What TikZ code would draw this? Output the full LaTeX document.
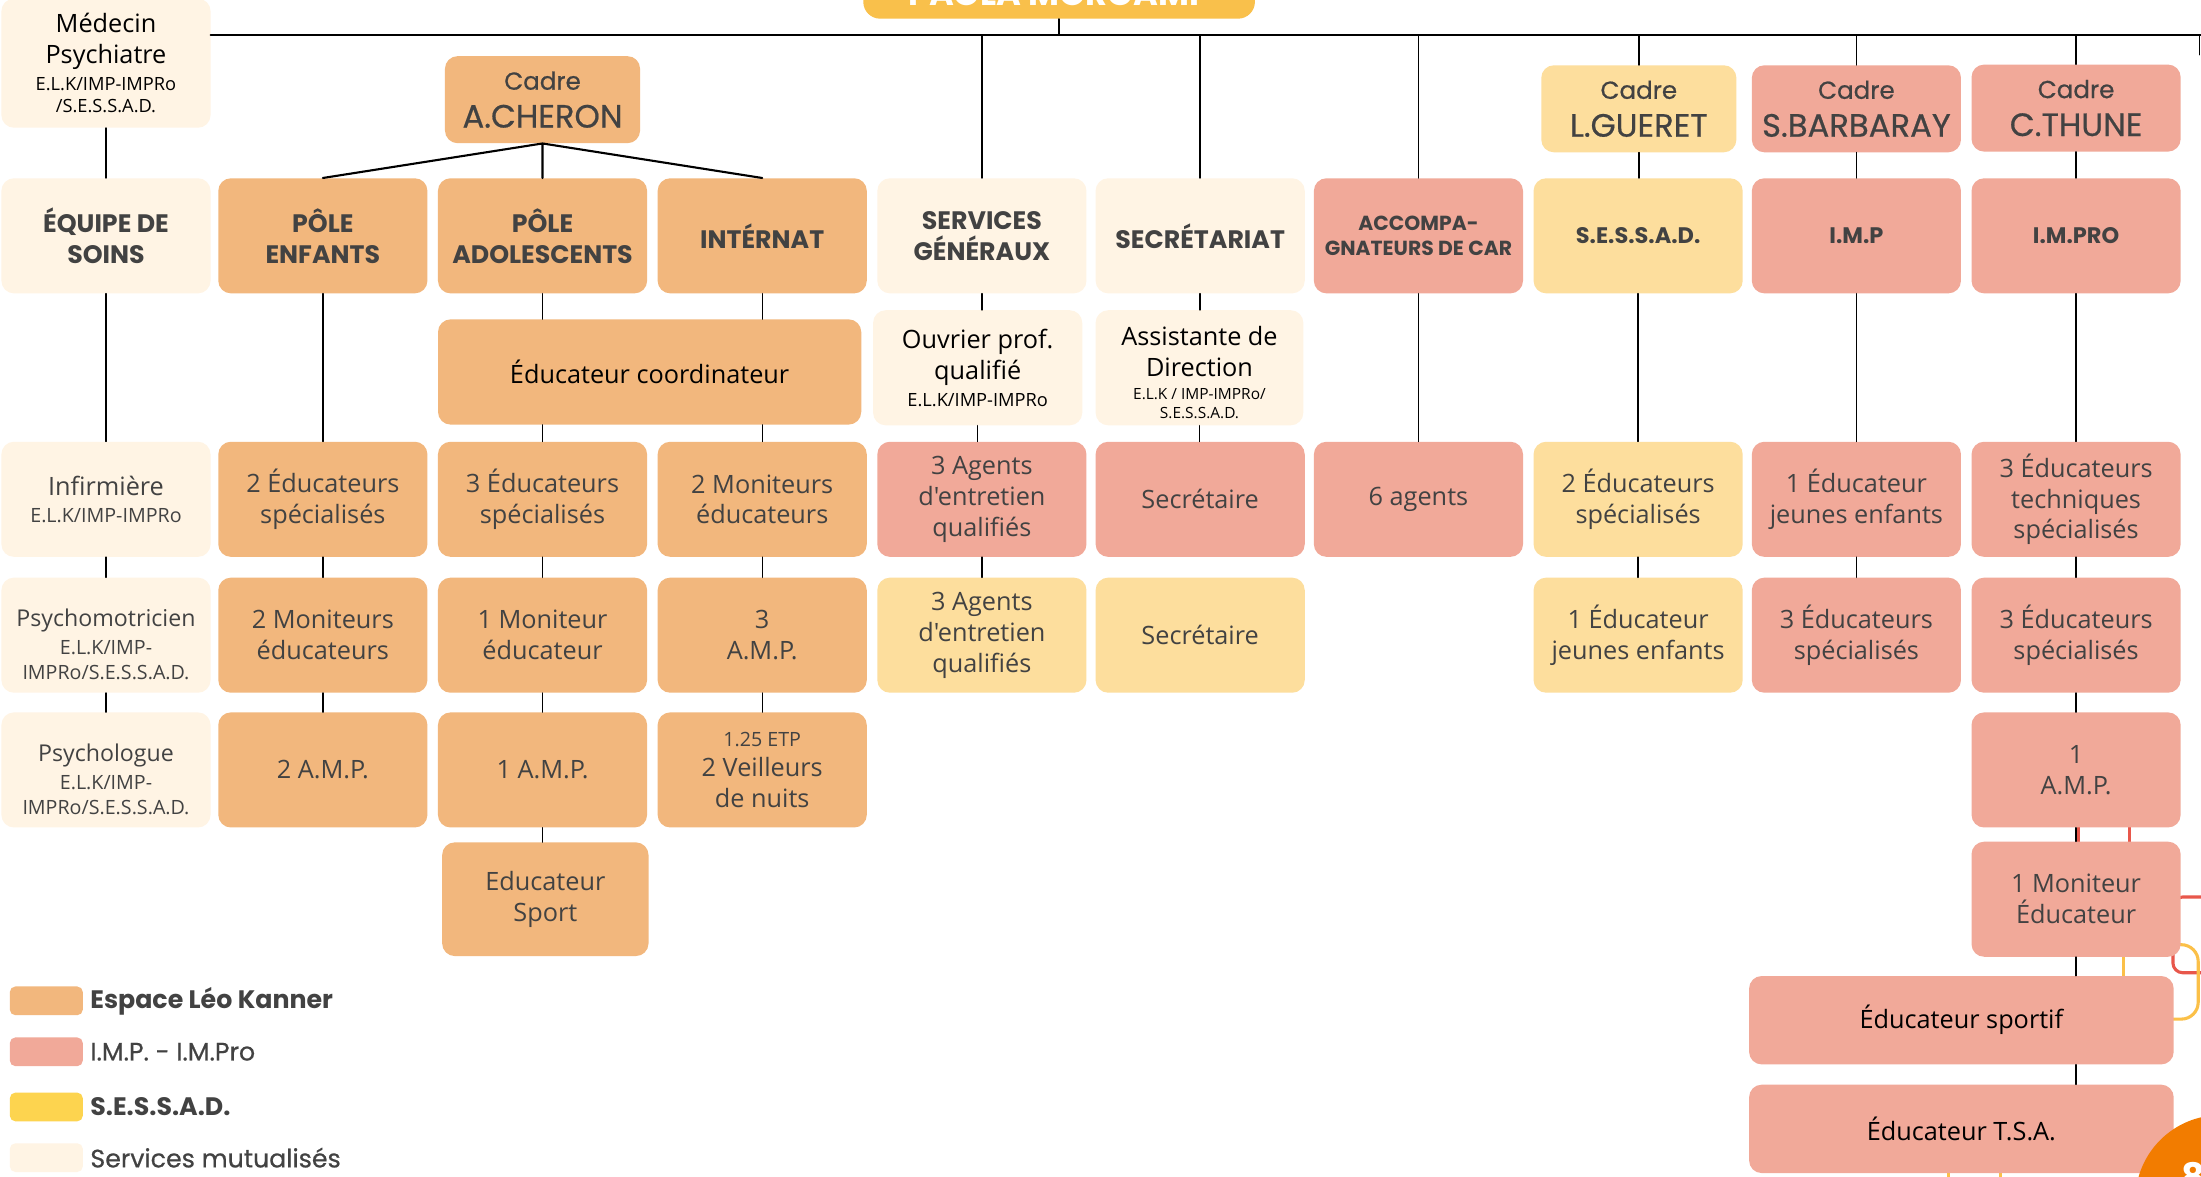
\documentclass[tikz,border=0pt]{standalone}
\usepackage{fontspec}
\setmainfont{Open Sans}[Ligatures=TeXOff]
\newfontfamily\pop{Poppins}
\newfontfamily\popm{Poppins}[FakeBold=0.6]
\usetikzlibrary{positioning}
\definecolor{elk}{HTML}{F2B77D}
\definecolor{imp}{HTML}{F1A999}
\definecolor{ses}{HTML}{FDDE9D}
\definecolor{sesl}{HTML}{FDD44F}
\definecolor{mut}{HTML}{FFF4E4}
\definecolor{ttl}{HTML}{F9C04B}
\definecolor{ink}{HTML}{424242}
\definecolor{rd}{HTML}{E8574B}
\definecolor{yl}{HTML}{FBC048}
\definecolor{org}{HTML}{F27C00}
\newcommand{\sm}{\fontsize{13}{16}\selectfont}
\newcommand{\smm}{\fontsize{14}{18}\selectfont}
\newcommand{\cname}{\fontsize{23}{25}\selectfont}
\begin{document}
\begin{tikzpicture}[x=1pt,y=-1pt,line join=round,line cap=round,
  box/.style={rounded corners=9pt,minimum width=149pt,minimum height=82pt,inner sep=0pt,align=center,text=ink,font=\fontsize{18}{22}\selectfont},
  felk/.style={box,fill=elk},fimp/.style={box,fill=imp},fses/.style={box,fill=ses},fmut/.style={box,fill=mut},
  hd/.style={font=\pop\bfseries\fontsize{18}{22}\selectfont},
  cad/.style={minimum height=62pt,font=\popm\fontsize{17.5}{27}\selectfont},
  link/.style={line width=1pt},bus/.style={line width=1.5pt},deco/.style={line width=2.2pt},
  lg/.style={inner sep=0pt,text=ink,font=\popm\fontsize{18}{20}\selectfont}]
\useasboundingbox (0,0) rectangle (1568,837.8);
\clip (0,0) rectangle (1568,837.8);
\fill[white] (0,0) rectangle (1568,837.8);
\draw[deco,rd] (1481,585)--(1481,605) (1517,585)--(1517,605);
\draw[deco,rd,rounded corners=7pt] (1600,639)--(1548,639)--(1548,693)--(1600,693);
\draw[deco,yl,rounded corners=12pt] (1540,673)--(1566,673)--(1566,726)--(1540,726);
\draw[deco,yl] (1512.6,678)--(1512.6,698) (1388,830)--(1388,840) (1425,830)--(1425,840);
\node[fill=ttl,rounded corners=12pt,minimum width=279pt,inner ysep=9.5pt,text depth=0pt,anchor=south,text=white,font=\pop\bfseries\fontsize{24}{26}\selectfont] (ttl) at (754.5,13.5) {PAOLA MORCAMP};
\node[fmut,minimum height=92pt,text=black] (med) at (75.5,45) {Médecin\\Psychiatre\\[-3pt]\sm E.L.K/IMP-IMPRo\\[-6pt]\sm /S.E.S.S.A.D.};
\node[felk,cad,minimum width=139pt] (cher) at (386.5,71) {Cadre\\{\cname A.CHERON}};
\node[fses,cad,minimum width=139pt] (gue) at (1167.5,77.5) {Cadre\\{\cname L.GUERET}};
\node[fimp,cad] (bar) at (1322.5,77.5) {Cadre\\{\cname S.BARBARAY}};
\node[fimp,cad] (thu) at (1479,77) {Cadre\\{\cname C.THUNE}};
\node[fmut,hd] (eq) at (75.5,168) {ÉQUIPE DE\\SOINS};
\node[felk,hd] (pe) at (230,168) {PÔLE\\ENFANTS};
\node[felk,hd] (pa) at (386.5,168) {PÔLE\\ADOLESCENTS};
\node[felk,hd] (int) at (543,168) {INTÉRNAT};
\node[fmut,hd] (sg) at (699.5,168) {SERVICES\\GÉNÉRAUX};
\node[fmut,hd] (sec) at (855,168) {SECRÉTARIAT};
\node[fimp,hd,font=\pop\bfseries\fontsize{14.5}{18}\selectfont] (acc) at (1010.5,168) {ACCOMPA-\\GNATEURS DE CAR};
\node[fses,hd,font=\pop\bfseries\fontsize{16}{20}\selectfont] (ses) at (1167,168) {S.E.S.S.A.D.};
\node[fimp,hd,font=\pop\bfseries\fontsize{16}{20}\selectfont] (imp) at (1322.5,168) {I.M.P};
\node[fimp,hd,font=\pop\bfseries\fontsize{16}{20}\selectfont] (impro) at (1479,168) {I.M.PRO};
\node[felk,minimum width=301.5pt,minimum height=75pt,text=black] (coord) at (462.8,265) {Éducateur coordinateur};
\node[fmut,text=black] (ouv) at (696.5,262) {Ouvrier prof.\\qualifié\\[-3pt]\sm E.L.K/IMP-IMPRo};
\node[fmut,minimum width=148pt,text=black] (ass) at (854.5,262) {\rule{0pt}{21pt}Assistante de\\Direction\\[-6pt]\fontsize{11}{13}\selectfont E.L.K / IMP-IMPRo/\\[-8pt]\fontsize{11}{13}\selectfont S.E.S.S.A.D.};
\node[fmut] (inf) at (75.5,355.7) {Infirmière\\[-3pt]\smm E.L.K/IMP-IMPRo};
\node[felk] (e2) at (230,355.7) {2 Éducateurs\\spécialisés};
\node[felk] (e3) at (386.5,355.7) {3 Éducateurs\\spécialisés};
\node[felk] (m2) at (543,355.7) {2 Moniteurs\\éducateurs};
\node[fimp] (ag1) at (699.5,355.7) {3 Agents\\d'entretien\\qualifiés};
\node[fimp] (sc1) at (855,355.7) {Secrétaire};
\node[fimp] (ag6) at (1010.5,355.7) {6 agents};
\node[fses] (se2) at (1167,355.7) {2 Éducateurs\\spécialisés};
\node[fimp] (ej1) at (1322.5,355.7) {1 Éducateur\\jeunes enfants};
\node[fimp] (et3) at (1479,355.7) {3 Éducateurs\\techniques\\spécialisés};
\node[fmut,font=\fontsize{16.5}{20}\selectfont] (psm) at (75.5,452.5) {\rule{0pt}{26pt}Psychomotricien\\\smm E.L.K/IMP-\\[-2pt]\smm IMPRo/S.E.S.S.A.D.};
\node[felk] (m2b) at (230,452.5) {2 Moniteurs\\éducateurs};
\node[felk] (m1) at (386.5,452.5) {1 Moniteur\\éducateur};
\node[felk] (amp3) at (543,452.5) {3\\A.M.P.};
\node[fses] (ag2) at (699.5,452.5) {3 Agents\\d'entretien\\qualifiés};
\node[fses] (sc2) at (855,452.5) {Secrétaire};
\node[fses] (sj1) at (1167,452.5) {1 Éducateur\\jeunes enfants};
\node[fimp] (e3b) at (1322.5,452.5) {3 Éducateurs\\spécialisés};
\node[fimp] (e3c) at (1479,452.5) {3 Éducateurs\\spécialisés};
\node[fmut,font=\fontsize{16.5}{20}\selectfont] (psl) at (75.5,548.5) {\rule{0pt}{26pt}Psychologue\\\smm E.L.K/IMP-\\[-2pt]\smm IMPRo/S.E.S.S.A.D.};
\node[felk] (amp2) at (230,548.5) {2 A.M.P.};
\node[felk] (amp1) at (386.5,548.5) {1 A.M.P.};
\node[felk] (veil) at (543,548.5) {{\fontsize{14}{16}\selectfont 1.25 ETP}\\2 Veilleurs\\de nuits};
\node[fimp] (amp10) at (1479,548.5) {1\\A.M.P.};
\node[felk,minimum width=147pt,minimum height=81pt] (sport) at (388.5,640.6) {Educateur\\Sport};
\node[fimp] (mon10) at (1479,640.6) {1 Moniteur\\Éducateur};
\node[fimp,minimum width=302.5pt,minimum height=63pt,text=black] (edsp) at (1397.3,726.8) {Éducateur sportif};
\node[fimp,minimum width=302.5pt,minimum height=63pt,text=black] (tsa) at (1397.3,804.2) {Éducateur T.S.A.};
\coordinate (bl) at (150,25);
\coordinate (br) at (1568,25);
\coordinate (rt) at (1567,39);
\draw[bus] (bl)--(br);
\draw[link] (ttl)--(ttl |- bl);
\draw[link] (rt |- bl)--(rt);
\foreach \n in {sg,sec,acc,gue,bar,thu}
  \draw[link] (\n.north |- bl)--(\n.north);
\foreach \a/\b in {med/eq,eq/inf,inf/psm,psm/psl,pe/e2,e2/m2b,m2b/amp2,e3/m1,m1/amp1,amp1/sport,m2/amp3,amp3/veil,sg/ouv,ouv/ag1,ag1/ag2,sec/ass,ass/sc1,acc/ag6,gue/ses,ses/se2,se2/sj1,bar/imp,imp/ej1,ej1/e3b,thu/impro,impro/et3,et3/e3c,e3c/amp10,amp10/mon10,mon10/edsp}
  \draw[link] (\a.south)--(\a.south |- \b.north);
\draw[link] (pa.south)--(pa.south |- coord.north) (int.south)--(int.south |- coord.north);
\draw[link] (coord.south -| e3.north)--(e3.north) (coord.south -| m2.north)--(m2.north);
\draw[link] (edsp.south -| mon10.south)--(tsa.north -| mon10.south);
\draw[bus] (cher.south)--(pe.north) (cher.south)--(pa.north) (cher.south)--(int.north);
\foreach \c/\y [count=\i] in {elk/713,imp/749.3,sesl/788.6,mut/824.7}
  \node[fill=\c,rounded corners=4pt,minimum width=52pt,minimum height=20.5pt,inner sep=0pt] (sw\i) at (33,\y) {};
\node[lg,font=\pop\bfseries\fontsize{18}{20}\selectfont,right=5pt of sw1] (lg1) {Espace Léo Kanner};
\node[lg,right=5pt of sw2] (lg2) {I.M.P. - I.M.Pro};
\node[lg,font=\pop\bfseries\fontsize{18}{20}\selectfont,right=5pt of sw3] (lg3) {S.E.S.S.A.D.};
\node[lg,right=5pt of sw4] (lg4) {Services mutualisés};
\fill[org] (1581.8,855) circle[radius=60.6pt];
\node[anchor=north west,inner sep=0pt,text=white,font=\pop\bfseries\fontsize{26}{26}\selectfont] (pg) at (1554,828) {8};
\end{tikzpicture}
\end{document}
